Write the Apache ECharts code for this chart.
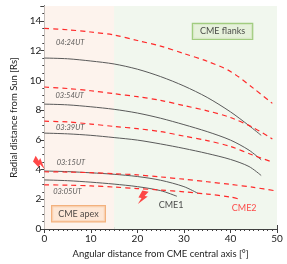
<!DOCTYPE html>
<html><head><meta charset="utf-8">
<script src="https://cdn.jsdelivr.net/npm/echarts@6/dist/echarts.min.js"></script>
<style>html,body{margin:0;padding:0;background:#fff}#c{width:287px;height:264px}</style>
</head><body><div id="c"></div>
<script>
// CME1 (solid) fronts: [angular distance deg, radial distance Rs]
const cme1_0305 = [[0,3.3],[5,3.25],[10,3.15],[15,3.02],[20,2.85],[25,2.58],[28.5,2.2]];
const cme1_0315 = [[0,3.9],[5,3.86],[10,3.78],[15,3.68],[20,3.53],[25,3.28],[30,2.85],[33,2.4]];
const cme1_0339 = [[0,6.45],[5,6.4],[10,6.3],[15,6.15],[20,5.98],[25,5.72],[30,5.42],[35,5.08],[40,4.68],[44,4.2],[46.6,3.6]];
const cme1_0354 = [[0,8.4],[5,8.35],[10,8.22],[15,8.05],[20,7.8],[25,7.45],[30,7.02],[35,6.55],[40,5.98],[44,5.3],[46.6,4.65]];
const cme1_0424 = [[0,11.5],[5,11.45],[10,11.3],[15,11.1],[20,10.75],[25,10.25],[30,9.62],[35,8.85],[40,7.88],[44,6.95],[46.6,6.3]];
// CME2 (dashed) fronts
const cme2_0305 = [[0,2.97],[5,2.95],[10,2.9],[15,2.82],[20,2.72],[25,2.62],[30,2.5],[35,2.35],[40,2.15],[42,2.0]];
const cme2_0315 = [[0,3.85],[5,3.83],[10,3.79],[15,3.72],[20,3.64],[25,3.5],[30,3.35],[35,3.18],[40,3.0],[45,2.8],[50,2.55]];
const cme2_0339 = [[0,7.25],[5,7.2],[10,7.06],[15,6.9],[20,6.75],[25,6.55],[30,6.25],[35,5.95],[40,5.55],[45,4.95],[49,4.5]];
const cme2_0354 = [[0,9.55],[5,9.45],[10,9.3],[15,9.1],[20,8.9],[25,8.65],[30,8.3],[35,7.95],[40,7.5],[45,6.8],[49,6.05]];
const cme2_0424 = [[0,13.5],[5,13.4],[10,13.25],[15,13.05],[20,12.68],[25,12.3],[30,11.8],[35,11.28],[40,10.6],[45,9.45],[49,8.45]];

const timeLabels = ['04:24UT','03:54UT','03:39UT','03:15UT','03:05UT'];
const regionBounds = [0, 15, 50];
const regionNames = ['CME apex','CME flanks'];
const cmeNames = ['CME1','CME2'];
const xTicks = [0,10,20,30,40,50];
const yTicks = [0,2,4,6,8,10,12,14];

// annotation anchors (data coords)
const timeLabelPos = [[2.5,12.57],[2.4,8.95],[2.5,6.79],[2.65,4.49],[1.9,2.5]];
const regionLabelPos = [[7.35,1.03],[38.3,13.29]];
const cmeLabelPos = [[27.25,1.62],[42.95,1.39]];
const boltPos = [[-0.9,4.45],[21.2,2.1]];

const FONT = 'Lato';
const solid = {color:'#5a5a5a', width:1};
const dashed = {color:'#ff2a2a', width:1.2, type:[5,4]};
function lineSeries(d, style){
  return {type:'line', data:d, smooth:0.3, showSymbol:false, symbol:'none', lineStyle:style, z:3, silent:true, animation:false};
}

const bolt = 'path://M3,0 L9,0 L6,5 L9,5 L1,14 L3.5,7.5 L0.5,7.5 Z';

const chart = echarts.init(document.getElementById('c'), null, {renderer:'canvas'});
const axisCommon = {
  min:0, axisLine:{show:true, lineStyle:{color:'#404040', width:1}},
  axisTick:{show:true, inside:true, length:4, lineStyle:{color:'#404040'}},
  minorTick:{show:true, length:2, lineStyle:{color:'#404040'}},
  splitLine:{show:false}
};
chart.setOption({
  animation:false,
  textStyle:{fontFamily:FONT},
  grid:{left:44.3, right:10, top:6, bottom:35, containLabel:false},
  xAxis:[
    Object.assign({}, axisCommon, {type:'value', max:50, interval:10, position:'bottom',
      minorTick:{show:true, splitNumber:10, length:2, lineStyle:{color:'#404040'}},
      axisLabel:{show:true, color:'#222', fontSize:10, margin:5, fontFamily:FONT,
        formatter:v=> xTicks.includes(v)? String(v):''},
      name:'Angular distance from CME central axis [°]', nameLocation:'middle', nameGap:17,
      nameTextStyle:{color:'#222', fontSize:9.5, fontFamily:FONT}}),
    Object.assign({}, axisCommon, {type:'value', max:50, interval:10, position:'top',
      minorTick:{show:true, splitNumber:10, length:2, lineStyle:{color:'#404040'}},
      axisLabel:{show:false}})
  ],
  yAxis:[
    Object.assign({}, axisCommon, {type:'value', max:15, interval:2, position:'left',
      minorTick:{show:true, splitNumber:4, length:2, lineStyle:{color:'#404040'}},
      axisLabel:{show:true, color:'#222', fontSize:10, margin:3, fontFamily:FONT, showMaxLabel:false,
        formatter:v=> yTicks.includes(v)? String(v):''},
      name:'Radial distance from Sun [Rs]', nameLocation:'middle', nameGap:24,
      nameTextStyle:{color:'#222', fontSize:9.5, fontFamily:FONT}}),
    Object.assign({}, axisCommon, {type:'value', max:15, interval:2, position:'right',
      minorTick:{show:true, splitNumber:4, length:2, lineStyle:{color:'#404040'}},
      axisLabel:{show:false}})
  ],
  series:[
    {type:'line', data:[], z:1, silent:true,
     markArea:{silent:true, data:[
       [{xAxis:regionBounds[0], itemStyle:{color:'#fdf3ed'}},{xAxis:regionBounds[1]}],
       [{xAxis:regionBounds[1], itemStyle:{color:'#f1f7ee'}},{xAxis:regionBounds[2]}]
     ]}},
    lineSeries(cme1_0305, solid), lineSeries(cme1_0315, solid), lineSeries(cme1_0339, solid),
    lineSeries(cme1_0354, solid), lineSeries(cme1_0424, solid),
    lineSeries(cme2_0305, dashed), lineSeries(cme2_0315, dashed), lineSeries(cme2_0339, dashed),
    lineSeries(cme2_0354, dashed), lineSeries(cme2_0424, dashed),
    {type:'scatter', z:5, silent:true, symbolSize:0, clip:false,
     data: timeLabels.map((t,i)=>({value:timeLabelPos[i], name:t})),
     label:{show:true, position:'right', distance:0, formatter:p=>p.name,
       fontStyle:'italic', fontSize:7.5, color:'#333', fontFamily:FONT}},
    {type:'scatter', z:5, silent:true, symbolSize:0, clip:false,
     data: regionNames.map((t,i)=>({value:regionLabelPos[i], name:t,
       label:{backgroundColor: i===0?'#fde3cf':'#e3efd6', borderColor: i===0?'#f0a060':'#8dc063',
              padding: i===0?[3,6,3,6]:[3,7,3,7]}})),
     label:{show:true, position:'inside', formatter:p=>p.name, fontSize:9, color:'#222',
       borderWidth:1.2, fontFamily:FONT}},
    {type:'scatter', z:5, silent:true, symbolSize:0, clip:false,
     data: cmeNames.map((t,i)=>({value:cmeLabelPos[i], name:t,
       label:{color: i===0?'#222':'#ff2020'}})),
     label:{show:true, position:'inside', formatter:p=>p.name, fontSize:9, fontFamily:FONT}},
    {type:'scatter', z:6, silent:true, clip:false, symbol:bolt, symbolSize:[9,14],
     itemStyle:{color:'#ff1a1a'},
     data:[{value:boltPos[0], symbolRotate:65},{value:boltPos[1], symbolRotate:-10}]}
  ]
});
</script></body></html>
